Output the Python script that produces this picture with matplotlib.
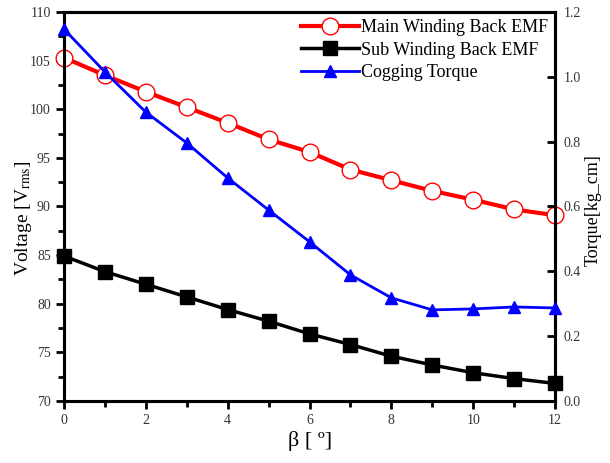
import matplotlib
matplotlib.use("Agg")
import matplotlib.pyplot as plt
from matplotlib.ticker import MultipleLocator, FormatStrFormatter

plt.rcParams['font.family'] = ['Liberation Serif', 'DejaVu Serif']
plt.rcParams['mathtext.fontset'] = 'stix'

beta = [0, 1, 2, 3, 4, 5, 6, 7, 8, 9, 10, 11, 12]
main_emf = [105.3, 103.5, 101.8, 100.2, 98.6, 96.9, 95.6, 93.8, 92.7, 91.6, 90.7, 89.7, 89.1]
sub_emf = [84.9, 83.3, 82.0, 80.7, 79.4, 78.2, 76.9, 75.8, 74.6, 73.7, 72.9, 72.3, 71.8]
cogging = [1.147, 1.015, 0.891, 0.796, 0.688, 0.589, 0.491, 0.389, 0.318, 0.281, 0.284, 0.290, 0.287]

fig = plt.figure(figsize=(6.10, 4.63), dpi=100)
ax = fig.add_axes([0.105, 0.134, 0.805, 0.840])
ax2 = ax.twinx()

l1, = ax.plot(beta, main_emf, color='#ff0000', lw=3, marker='o', ms=12,
              mfc='white', mec='#ff0000', mew=1.0, label='Main Winding Back EMF', clip_on=False, zorder=3)
l2, = ax.plot(beta, sub_emf, color='black', lw=2.5, marker='s', ms=10,
              mfc='black', mec='black', label='Sub Winding Back EMF', clip_on=False, zorder=3)
l3, = ax2.plot(beta, cogging, color='#0000ff', lw=2, marker='^', ms=8,
               mfc='#0000ff', mec='#0000ff', label='Cogging Torque', clip_on=False, zorder=3)

ax.set_xlim(0, 12)
ax.set_ylim(70, 110)
ax2.set_ylim(0, 1.2)

ax.xaxis.set_major_locator(MultipleLocator(2))
ax.xaxis.set_minor_locator(MultipleLocator(1))
ax.yaxis.set_major_locator(MultipleLocator(5))
ax.yaxis.set_minor_locator(MultipleLocator(2.5))
ax2.yaxis.set_major_locator(MultipleLocator(0.2))
ax2.yaxis.set_major_formatter(FormatStrFormatter('%.1f'))

for a in (ax, ax2):
    for s in a.spines.values():
        s.set_linewidth(2.2)

ax.tick_params(axis='both', which='major', direction='out', length=6, width=2, labelsize=10, colors='black', labelcolor='#333333')
ax.tick_params(axis='both', which='minor', direction='out', length=4, width=2)
ax.tick_params(axis='y', which='both', right=False)
ax.tick_params(axis='x', which='both', top=False)
ax2.tick_params(axis='y', which='major', direction='in', length=6, width=2, labelsize=10, labelcolor='#333333', pad=6)

ax.set_xlabel('β [ º]', fontsize=16, labelpad=3)
ax.set_ylabel(r'Voltage [V$_{\mathrm{rms}}$]', fontsize=14)
ax.yaxis.set_label_coords(-0.062, 0.47)
ax2.set_ylabel('Torque[kg_cm]', fontsize=13, rotation=90)
ax2.yaxis.set_label_coords(1.06, 0.49)

leg = ax2.legend(handles=[l1, l2, l3], loc='upper right', frameon=False, fontsize=13,
                 handlelength=3.2, handletextpad=0.1, labelspacing=0.3,
                 borderaxespad=0.0, bbox_to_anchor=(1.0, 1.0))

fig.savefig('out.png', dpi=100)
